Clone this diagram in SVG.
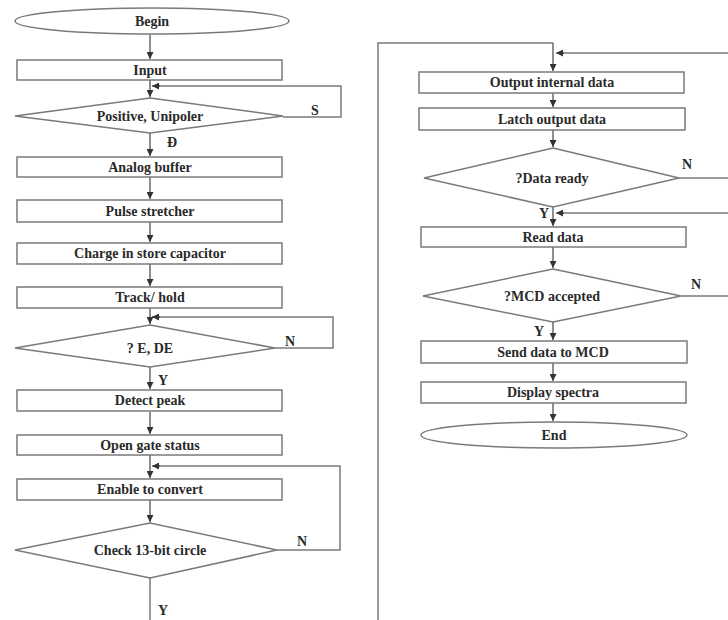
<svg xmlns="http://www.w3.org/2000/svg" width="728" height="620" viewBox="0 0 728 620">
<defs>
<marker id="ah" viewBox="0 0 10 10" refX="10" refY="5" markerWidth="7" markerHeight="7" markerUnits="userSpaceOnUse" orient="auto">
<path d="M0,0 L10,5 L0,10 z" fill="#333"/>
</marker>
</defs>
<style>
.b{fill:#fff;stroke:#7a7a7a;stroke-width:1.5}
.t{font-family:"Liberation Serif",serif;font-weight:bold;font-size:14px;fill:#2a2a2a;text-anchor:middle}
.l{fill:none;stroke:#7a7a7a;stroke-width:1.5}
.a{fill:none;stroke:#444;stroke-width:1.2;marker-end:url(#ah)}
</style>
<rect width="728" height="620" fill="#fff"/>
<g id="connectors">
<path class="a" d="M150,35 V59"/>
<path class="a" d="M150,80 V97"/>
<path class="l" d="M283,117 H341 V86 H158"/>
<path class="a" d="M160,86 H152"/>
<path class="a" d="M150,133 V156"/>
<path class="a" d="M150,177 V199"/>
<path class="a" d="M150,222 V242"/>
<path class="a" d="M150,264 V286"/>
<path class="l" d="M275,348 H333 V317 H158"/>
<path class="a" d="M160,317 H152"/>
<path class="a" d="M150,308 V324"/>
<path class="a" d="M150,367 V389"/>
<path class="a" d="M150,412 V434"/>
<path class="l" d="M277,550 H340 V466 H158"/>
<path class="a" d="M160,466 H152"/>
<path class="a" d="M150,455 V478"/>
<path class="a" d="M150,500 V522"/>
<path class="l" d="M150,578 V620"/>
<path class="l" d="M378,620 V43 H553"/>
<path class="a" d="M553,43 V71"/>
<path class="l" d="M728,53 H562"/>
<path class="a" d="M564,53 H556"/>
<path class="a" d="M553,93 V107"/>
<path class="a" d="M553,130 V147"/>
<path class="l" d="M679,178 H728"/>
<path class="a" d="M553,207 V226"/>
<path class="l" d="M728,213 H562"/>
<path class="a" d="M564,213 H556"/>
<path class="a" d="M553,247 V268"/>
<path class="l" d="M681,296 H728"/>
<path class="a" d="M553,322 V340"/>
<path class="a" d="M553,363 V381"/>
<path class="a" d="M553,403 V421"/>
</g>
<g id="begin"><ellipse class="b" cx="152" cy="21" rx="137" ry="13"/><text class="t" x="152" y="26">Begin</text></g>
<g id="input"><rect class="b" x="17" y="60" width="265" height="20"/><text class="t" x="150" y="75">Input</text></g>
<g id="positive"><polygon class="b" points="150,98 283,116 150,133 15,116"/><text class="t" x="150" y="121">Positive, Unipoler</text></g>
<g id="analog"><rect class="b" x="17" y="157" width="265" height="20"/><text class="t" x="150" y="172">Analog buffer</text></g>
<g id="pulse"><rect class="b" x="17" y="200" width="265" height="22"/><text class="t" x="150" y="216">Pulse stretcher</text></g>
<g id="charge"><rect class="b" x="17" y="243" width="265" height="21"/><text class="t" x="150" y="258">Charge in store capacitor</text></g>
<g id="track"><rect class="b" x="17" y="287" width="265" height="21"/><text class="t" x="150" y="302">Track/ hold</text></g>
<g id="ede"><polygon class="b" points="150,325 275,348 150,367 15,348"/><text class="t" x="150" y="353">? E, DE</text></g>
<g id="detect"><rect class="b" x="17" y="390" width="265" height="21"/><text class="t" x="150" y="405">Detect peak</text></g>
<g id="opengate"><rect class="b" x="17" y="435" width="265" height="20"/><text class="t" x="150" y="450">Open gate status</text></g>
<g id="enable"><rect class="b" x="17" y="479" width="265" height="21"/><text class="t" x="150" y="494">Enable to convert</text></g>
<g id="check"><polygon class="b" points="150,523 277,550 150,578 15,550"/><text class="t" x="150" y="555">Check 13-bit circle</text></g>
<g id="outint"><rect class="b" x="419" y="72" width="265" height="21"/><text class="t" x="552" y="87">Output internal data</text></g>
<g id="latch"><rect class="b" x="419" y="108" width="266" height="22"/><text class="t" x="552" y="124">Latch output data</text></g>
<g id="dataready"><polygon class="b" points="553,148 679,178 553,207 424,178"/><text class="t" x="552" y="183">?Data ready</text></g>
<g id="read"><rect class="b" x="421" y="227" width="265" height="20"/><text class="t" x="553" y="242">Read data</text></g>
<g id="mcd"><polygon class="b" points="553,269 681,296 553,322 423,296"/><text class="t" x="552" y="301">?MCD accepted</text></g>
<g id="send"><rect class="b" x="421" y="341" width="266" height="22"/><text class="t" x="553" y="357">Send data to MCD</text></g>
<g id="display"><rect class="b" x="421" y="382" width="265" height="21"/><text class="t" x="553" y="397">Display spectra</text></g>
<g id="end"><ellipse class="b" cx="554" cy="435" rx="133" ry="13"/><text class="t" x="554" y="440">End</text></g>
<g id="labels">
<text class="t" x="315" y="115" font-size="12">S</text>
<text class="t" x="172" y="147" font-size="12">Đ</text>
<text class="t" x="290" y="346" font-size="13">N</text>
<text class="t" x="163" y="385" font-size="13">Y</text>
<text class="t" x="302" y="546" font-size="13">N</text>
<text class="t" x="163" y="615" font-size="13">Y</text>
<text class="t" x="687" y="169" font-size="13">N</text>
<text class="t" x="544" y="218" font-size="13">Y</text>
<text class="t" x="696" y="289" font-size="13">N</text>
<text class="t" x="539" y="336" font-size="13">Y</text>
</g>
</svg>
